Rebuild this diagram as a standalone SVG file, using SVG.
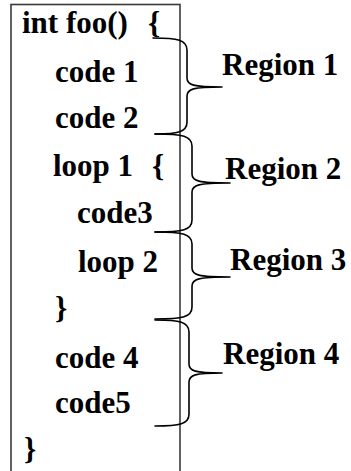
<svg xmlns="http://www.w3.org/2000/svg" width="351" height="471" viewBox="0 0 351 471">
  <style>
    .code { font-family: "Liberation Serif", "Times New Roman", serif; font-weight: bold; font-size: 31px; fill: #000; }
    .frame { fill: #fff; stroke: #3a3a3a; stroke-width: 1.6; }
    .brace { fill: none; stroke: #000; stroke-width: 1.6; stroke-linejoin: round; stroke-linecap: round; }
  </style>
  <rect width="351" height="471" fill="#fff"/>

  <!-- function body frame, open at the bottom edge -->
  <g id="function-frame">
    <rect class="frame" x="11" y="4.5" width="169" height="480"/>
  </g>

  <g id="code-lines">
    <text class="code" x="22" y="33">int foo()<tspan x="148">{</tspan></text>
    <text class="code" x="55" y="82">code 1</text>
    <text class="code" x="55" y="128">code 2</text>
    <text class="code" x="53" y="176">loop 1<tspan x="152">{</tspan></text>
    <text class="code" x="77" y="223">code3</text>
    <text class="code" x="78" y="272">loop 2</text>
    <text class="code" x="55" y="318">}</text>
    <text class="code" x="55" y="368">code 4</text>
    <text class="code" x="55" y="413">code5</text>
    <text class="code" x="24" y="459">}</text>
  </g>

  <!-- curly braces grouping the code lines -->
  <g id="connectors">
    <path class="brace" d="M153,38 C178,38 187,40 187,50 L187,78 C187,85 193,87 222,87 C193,87 187,89 187,96 L187,122 C187,132 178,134 155,134"/>
    <path class="brace" d="M155,134 C183,134 192,136 192,146 L192,174 C192,181 198,183 230,183 C198,183 192,185 192,192 L192,220 C192,230 183,232 155,232"/>
    <path class="brace" d="M155,232 C183,232 192,234 192,244 L192,268 C192,275 198,277 230,277 C198,277 192,279 192,286 L192,307 C192,317 183,319 155,319"/>
    <path class="brace" d="M155,320 C180,320 189,322 189,332 L189,364 C189,371 195,373 222,373 C195,373 189,375 189,382 L189,414 C189,424 180,426 155,426"/>
  </g>

  <g id="region-1"><text class="code" x="222" y="75">Region 1</text></g>
  <g id="region-2"><text class="code" x="225" y="179">Region 2</text></g>
  <g id="region-3"><text class="code" x="230" y="270">Region 3</text></g>
  <g id="region-4"><text class="code" x="223" y="364">Region 4</text></g>
</svg>
